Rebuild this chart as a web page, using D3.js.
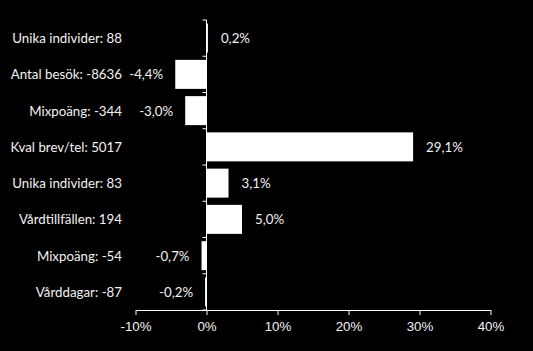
<!DOCTYPE html>
<html><head><meta charset="utf-8">
<script src="https://cdn.jsdelivr.net/npm/d3@7"></script>
<style>html,body{margin:0;padding:0;background:#000;}svg{display:block;}</style>
</head><body>
<div id="chart"></div>
<script>
const categories = ["Unika individer: 88","Antal besök: -8636","Mixpoäng: -344","Kval brev/tel: 5017","Unika individer: 83","Vårdtillfällen: 194","Mixpoäng: -54","Vårddagar: -87"];
const values = [0.2, -4.4, -3.0, 29.1, 3.1, 5.0, -0.7, -0.2];
const valueLabels = ["0,2%","-4,4%","-3,0%","29,1%","3,1%","5,0%","-0,7%","-0,2%"];
const xTicks = [-10, 0, 10, 20, 30, 40];

const W = 533, H = 351;
const svg = d3.select("#chart").append("svg").attr("width", W).attr("height", H)
  .style("font-family", "Lato, 'Open Sans', sans-serif");
svg.append("rect").attr("width", W).attr("height", H).attr("fill", "#000");

const x = d3.scaleLinear().domain([-10, 40]).range([135.5, 490.5]);
const y = d3.scaleBand().domain(categories).range([20, 310]).paddingInner(0.2).paddingOuter(0.1);
const band = d3.scaleBand().domain(categories).range([20, 310]);

// bars
svg.selectAll("rect.bar").data(values).join("rect").attr("class","bar")
  .attr("x", d => x(Math.min(0, d)))
  .attr("width", d => Math.abs(x(d) - x(0)))
  .attr("y", (d,i) => y(categories[i]))
  .attr("height", y.bandwidth())
  .attr("fill", "#fff");

// x axis
const xAxis = svg.append("g").attr("transform", "translate(0,310)")
  .call(d3.axisBottom(x).tickValues(xTicks).tickFormat(d => d + "%").tickSize(5).tickSizeOuter(0));
xAxis.select(".domain").attr("stroke", "#fff");
xAxis.selectAll(".tick line").attr("stroke", "#fff");
xAxis.selectAll(".tick text").attr("fill", "#f2f2f2").attr("font-size", 13.3).attr("dy", "0.95em");

// y axis at zero (ticks at band boundaries)
const yg = svg.append("g").attr("transform", `translate(${x(0)},0)`);
yg.append("line").attr("x1",0).attr("x2",0).attr("y1",20).attr("y2",310).attr("stroke","#fff");
const bounds = categories.map(c => band(c)).concat([310]);
yg.selectAll("line.tk").data(bounds).join("line").attr("class","tk")
  .attr("x1",-4).attr("x2",0).attr("y1",d=>d).attr("y2",d=>d).attr("stroke","#fff");

// category labels
svg.selectAll("text.cat").data(categories).join("text").attr("class","cat")
  .attr("x", 122).attr("y", d => band(d) + band.bandwidth()/2)
  .attr("text-anchor","end").attr("dominant-baseline","central")
  .attr("fill","#f2f2f2").attr("font-size", 13.3).text(d => d);

// value labels
svg.selectAll("text.val").data(values).join("text").attr("class","val")
  .attr("x", d => d >= 0 ? x(d) + 13 : x(d) - 12)
  .attr("y", (d,i) => band(categories[i]) + band.bandwidth()/2)
  .attr("text-anchor", d => d >= 0 ? "start" : "end")
  .attr("dominant-baseline","central")
  .attr("fill","#f2f2f2").attr("font-size", 13.3).text((d,i) => valueLabels[i]);
</script>
</body></html>
